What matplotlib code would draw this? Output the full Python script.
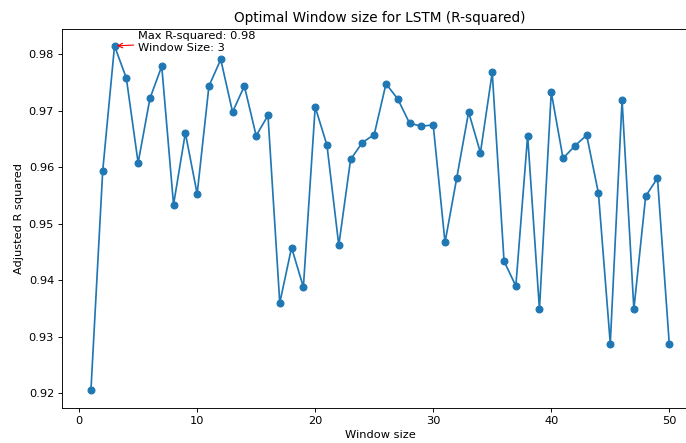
import matplotlib
matplotlib.use('Agg')
import matplotlib.pyplot as plt

window_sizes = list(range(1, 51))
r_squared = [
    0.9205, 0.9594, 0.9815, 0.9758, 0.9608, 0.9722, 0.9779, 0.9534, 0.9661, 0.9553,
    0.9744, 0.9791, 0.9698, 0.9744, 0.9656, 0.9692, 0.9360, 0.9458, 0.9388, 0.9707,
    0.9639, 0.9462, 0.9614, 0.9644, 0.9658, 0.9748, 0.9721, 0.9678, 0.9673, 0.9675,
    0.9467, 0.9582, 0.9698, 0.9626, 0.9768, 0.9434, 0.9390, 0.9656, 0.9349, 0.9733,
    0.9616, 0.9638, 0.9657, 0.9554, 0.9288, 0.9719, 0.9349, 0.9549, 0.9581, 0.9287,
]

best = max(range(len(r_squared)), key=lambda i: r_squared[i])
best_w = window_sizes[best]
best_r2 = r_squared[best]

dpi = 82
fig = plt.figure(figsize=(686 / dpi, 443 / dpi), dpi=dpi)
# axes run past the right edge of the canvas
ax = fig.add_axes([62 / 686, 35.3 / 443, 636.2 / 686, 379 / 443])

ax.plot(window_sizes, r_squared, marker='o')
ax.annotate(f'Max R-squared: {best_r2:.2f}\nWindow Size: {best_w}',
            xy=(best_w, best_r2), xytext=(best_w + 2, best_r2 - 0.0009),
            arrowprops=dict(arrowstyle='->', color='red'))

ax.set_title('Optimal Window size for LSTM (R-squared)')
ax.set_xlabel('Window size')
ax.set_ylabel('Adjusted R squared')

fig.savefig('out.png', dpi=dpi)
